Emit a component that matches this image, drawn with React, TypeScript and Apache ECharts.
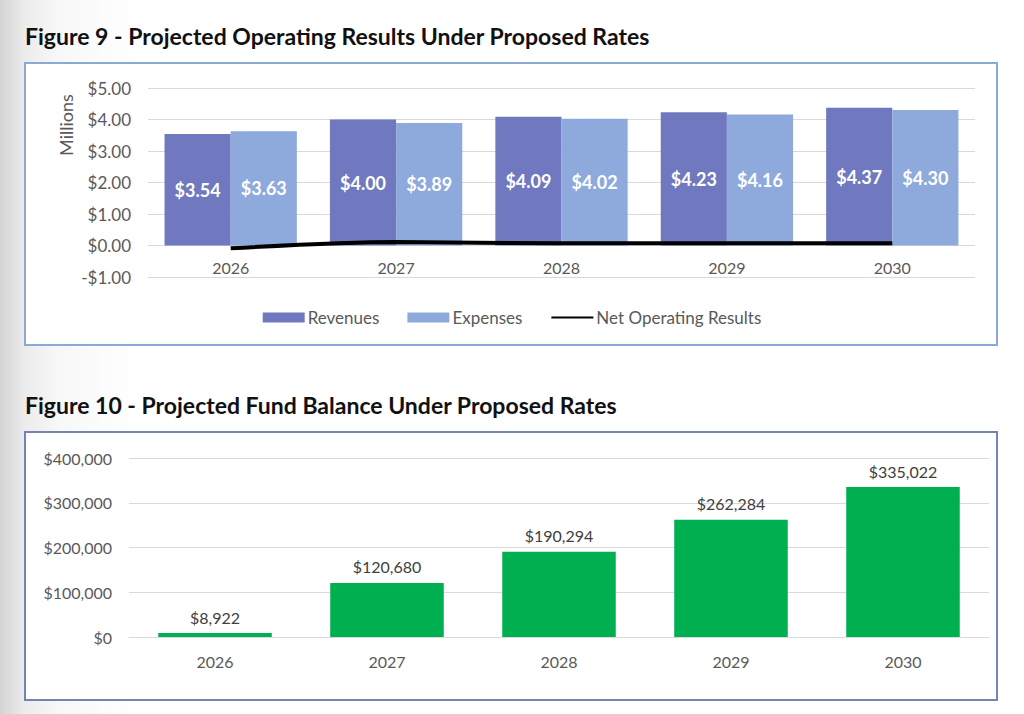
import React, { useEffect, useRef } from "react";
import * as echarts from "echarts";

const years = ["2026", "2027", "2028", "2029", "2030"];
const revenues = [3.54, 4.0, 4.09, 4.23, 4.37];
const expenses = [3.63, 3.89, 4.02, 4.16, 4.3];
const netOperating = [-0.09, 0.11, 0.07, 0.07, 0.07];
const fundBalance = [8922, 120680, 190294, 262284, 335022];

const title1 = "Figure 9 - Projected Operating Results Under Proposed Rates";
const title2 = "Figure 10 - Projected Fund Balance Under Proposed Rates";
const axisTitle1 = "Millions";

const FONT = "Lato, 'Open Sans', sans-serif";

export default function App() {
  const ref = useRef<HTMLDivElement>(null);
  useEffect(() => {
    if (!ref.current) return;
    const chart = echarts.init(ref.current, null, { renderer: "svg" });
    const money2 = (v: number) =>
      (v < 0 ? "-$" : "$") + Math.abs(v).toFixed(2);
    const money0 = (v: number) =>
      "$" + Math.round(v).toLocaleString("en-US");
    chart.setOption({
      animation: false,
      textStyle: { fontFamily: FONT },
      title: [
        {
          text: title1,
          left: 25,
          top: 24,
          padding: 0,
          textStyle: { fontFamily: FONT, fontWeight: "bold", fontSize: 23, color: "#111" },
        },
        {
          text: title2,
          left: 25,
          top: 393,
          padding: 0,
          textStyle: { fontFamily: FONT, fontWeight: "bold", fontSize: 23, color: "#111" },
        },
      ],
      graphic: [
        {
          type: "rect",
          z: -10,
          shape: { x: 25, y: 63, width: 972, height: 282 },
          style: { fill: "#ffffff", stroke: "#8aa9d6", lineWidth: 2 },
        },
        {
          type: "rect",
          z: -10,
          shape: { x: 25, y: 432, width: 972, height: 268 },
          style: { fill: "#ffffff", stroke: "#7484b2", lineWidth: 2 },
        },
        {
          type: "text",
          x: 66,
          y: 125,
          rotation: Math.PI / 2,
          style: {
            text: axisTitle1,
            fill: "#595959",
            fontSize: 18,
            fontFamily: FONT,
            align: "center",
            verticalAlign: "middle",
          },
        },
      ],
      legend: {
        data: [
          { name: "Revenues", icon: "rect" },
          { name: "Expenses", icon: "rect" },
          { name: "Net Operating Results", itemStyle: { opacity: 0 } },
        ],
        left: "center",
        top: 304,
        itemWidth: 42,
        itemHeight: 10,
        itemGap: 28,
        textStyle: { fontFamily: FONT, fontSize: 17, color: "#595959", padding: [0, 0, 0, -2] },
      },
      grid: [
        { left: 148, right: 49, top: 88, bottom: 437 },
        { left: 129, right: 35, top: 458, bottom: 77 },
      ],
      xAxis: [
        {
          type: "category",
          gridIndex: 0,
          data: years,
          position: "bottom",
          offset: -33,
          axisLine: { show: false },
          axisTick: { show: false },
          axisLabel: { color: "#595959", fontSize: 16, margin: 15, fontFamily: FONT },
        },
        {
          type: "category",
          gridIndex: 1,
          data: years,
          axisLine: { lineStyle: { color: "#d9d9d9", width: 1 } },
          axisTick: { show: false },
          axisLabel: { color: "#595959", fontSize: 16, margin: 16, fontFamily: FONT },
        },
      ],
      yAxis: [
        {
          type: "value",
          gridIndex: 0,
          min: -1,
          max: 5,
          interval: 1,
          axisLine: { show: false },
          axisTick: { show: false },
          axisLabel: { color: "#595959", fontSize: 17, margin: 17, formatter: money2, fontFamily: FONT },
          splitLine: { lineStyle: { color: "#d9d9d9", width: 1 } },
        },
        {
          type: "value",
          gridIndex: 1,
          min: 0,
          max: 400000,
          interval: 100000,
          axisLine: { show: false },
          axisTick: { show: false },
          axisLabel: { color: "#595959", fontSize: 16, margin: 17, formatter: money0, fontFamily: FONT },
          splitLine: { lineStyle: { color: "#d9d9d9", width: 1 } },
        },
      ],
      series: [
        {
          name: "Revenues",
          type: "bar",
          xAxisIndex: 0,
          yAxisIndex: 0,
          data: revenues,
          barGap: "0%",
          barCategoryGap: "20%",
          itemStyle: { color: "#7079bf" },
          label: {
            show: true,
            position: "inside",
            color: "#ffffff",
            fontWeight: "bold",
            fontSize: 18,
            fontFamily: FONT,
            formatter: (p: any) => money2(p.value),
          },
        },
        {
          name: "Expenses",
          type: "bar",
          xAxisIndex: 0,
          yAxisIndex: 0,
          data: expenses,
          barGap: "0%",
          barCategoryGap: "20%",
          itemStyle: { color: "#8eaadc" },
          label: {
            show: true,
            position: "inside",
            color: "#ffffff",
            fontWeight: "bold",
            fontSize: 18,
            fontFamily: FONT,
            formatter: (p: any) => money2(p.value),
          },
        },
        {
          name: "Net Operating Results",
          type: "line",
          xAxisIndex: 0,
          yAxisIndex: 0,
          data: netOperating,
          smooth: 0.3,
          symbol: "none",
          lineStyle: { color: "#000000", width: 4 },
          itemStyle: { color: "#000000" },
          z: 5,
        },
        {
          name: "Fund Balance",
          type: "bar",
          xAxisIndex: 1,
          yAxisIndex: 1,
          data: fundBalance,
          barCategoryGap: "34%",
          itemStyle: { color: "#00b050" },
          label: {
            show: true,
            position: "top",
            distance: 8,
            color: "#404040",
            fontSize: 16,
            fontFamily: FONT,
            formatter: (p: any) => money0(p.value),
          },
        },
      ],
    });
    return () => chart.dispose();
  }, []);

  return (
    <div
      style={{
        position: "absolute",
        left: 0,
        top: 0,
        width: 1024,
        height: 714,
        background:
          "linear-gradient(to right, #d4d4d4 0px, #ececec 25px, #f8f8f8 60px, #ffffff 140px, #ffffff 100%)",
      }}
    >
      <div ref={ref} style={{ width: 1024, height: 714 }} />
    </div>
  );
}
